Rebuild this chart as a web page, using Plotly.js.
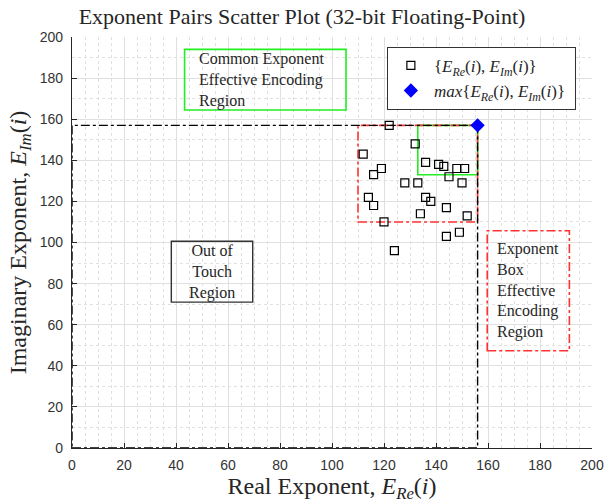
<!DOCTYPE html>
<html>
<head>
<meta charset="utf-8">
<script src="https://cdn.plot.ly/plotly-3.0.1.min.js"></script>
<style>html,body{margin:0;padding:0;background:#fff;}#chart{width:604px;height:503px;}</style>
</head>
<body>
<div id="chart"></div>
<script>
// Exponent pairs (real, imaginary)
const realExp = [122,132,112,136,141,143,148,151,119,116,145,128,133,150,114,116,136,138,144,134,152,120,144,149,124];
const imagExp = [157,148,143,139,138,137,136,136,136,133,132,129,129,129,122,118,122,120,117,114,113,110,103,105,96];
// maximum exponent pair
const maxReal = [156];
const maxImag = [157];
// region bounds
const exponentBoxX = [110,156];
const exponentBoxY = [110,157];
const commonExpX = [133,156];
const commonExpY = [133,157];
const xTicks = [0,20,40,60,80,100,120,140,160,180,200];
const yTicks = [0,20,40,60,80,100,120,140,160,180,200];

const serif = '"Liberation Serif", "Times New Roman", serif';
const sans = '"Liberation Sans", Arial, sans-serif';
const txt = '#262626';

const traces = [
  {x: realExp, y: imagExp, type: 'scatter', mode: 'markers',
   name: '{<i>E</i><sub><i>Re</i></sub>(<i>i</i>), <i>E</i><sub><i>Im</i></sub>(<i>i</i>)} ',
   marker: {symbol: 'square-open', size: 8, color: '#000', line: {width: 1.2}}},
  {x: maxReal, y: maxImag, type: 'scatter', mode: 'markers',
   name: '<i>max</i>{<i>E</i><sub><i>Re</i></sub>(<i>i</i>), <i>E</i><sub><i>Im</i></sub>(<i>i</i>)} ',
   marker: {symbol: 'diamond', size: 11, color: '#0000ff'}}
];

const mx = maxReal[0], my = maxImag[0];
const shapes = [
  {type: 'rect', xref: 'x', yref: 'y', x0: commonExpX[0], x1: commonExpX[1], y0: commonExpY[0], y1: commonExpY[1],
   line: {color: '#22ee22', width: 1.6}, layer: 'between'},
  {type: 'rect', xref: 'x', yref: 'y', x0: exponentBoxX[0], x1: exponentBoxX[1], y0: exponentBoxY[0], y1: exponentBoxY[1],
   line: {color: '#ff3333', width: 1.6, dash: 'dashdot'}, layer: 'between'},
  {type: 'rect', xref: 'x', yref: 'y', x0: 0, x1: mx, y0: 0, y1: my,
   line: {color: '#000', width: 1.4, dash: 'dashdot'}, layer: 'between'},
  {type: 'rect', xref: 'x', yref: 'y', x0: 43.3, x1: 105.4, y0: 164.5, y1: 194,
   line: {color: '#22ee22', width: 1.6}, fillcolor: 'rgba(255,255,255,0)', layer: 'between'},
  {type: 'rect', xref: 'x', yref: 'y', x0: 38.2, x1: 69.5, y0: 71, y1: 100.6,
   line: {color: '#333', width: 1.4}, fillcolor: 'rgba(255,255,255,0)', layer: 'between'},
  {type: 'rect', xref: 'x', yref: 'y', x0: 159.7, x1: 191.3, y0: 47.3, y1: 105.7,
   line: {color: '#ff3333', width: 1.6, dash: 'dashdot'}, fillcolor: 'rgba(255,255,255,0)', layer: 'between'}
];

const annFont = {family: serif, size: 16, color: txt};
const annotations = [
  {xref: 'x', yref: 'y', x: 48, y: 179, text: 'Common Exponent<br>Effective Encoding<br>Region',
   showarrow: false, align: 'left', xanchor: 'left', yanchor: 'middle', font: annFont},
  {xref: 'x', yref: 'y', x: 53.9, y: 85.5, text: 'Out of<br>Touch<br>Region',
   showarrow: false, align: 'center', xanchor: 'center', yanchor: 'middle', font: annFont},
  {xref: 'x', yref: 'y', x: 162.5, y: 76.5, text: 'Exponent<br>Box<br>Effective<br>Encoding<br>Region',
   showarrow: false, align: 'left', xanchor: 'left', yanchor: 'middle', font: annFont}
];

const axisCommon = {
  range: [0, 200], ticks: 'inside', ticklen: 5, tickcolor: txt, tickwidth: 1,
  showline: true, linecolor: txt, linewidth: 1.2, zeroline: false,
  showgrid: true, gridcolor: '#e0e0e0', gridwidth: 1,
  tickfont: {family: sans, size: 14, color: '#333'}
};

const layout = {
  width: 604, height: 503,
  margin: {l: 72, r: 12, t: 37, b: 55},
  paper_bgcolor: '#fff', plot_bgcolor: '#fff',
  title: {text: 'Exponent Pairs Scatter Plot (32-bit Floating-Point)', font: {family: serif, size: 22, color: txt},
          xref: 'container', x: 0.5, y: 0.968, yanchor: 'middle'},
  xaxis: Object.assign({}, axisCommon, {
    tickvals: xTicks, ticklabelstandoff: 4,
    minor: {dtick: 5, showgrid: true, gridcolor: '#e0e0e0', griddash: 'dot', ticks: ''},
    title: {text: 'Real Exponent, <i>E</i><sub><i>Re</i></sub>(<i>i</i>)', font: {family: serif, size: 24, color: txt}, standoff: 6}
  }),
  yaxis: Object.assign({}, axisCommon, {
    tickvals: yTicks, ticklabelstandoff: 5,
    minor: {dtick: 10, showgrid: true, gridcolor: '#e0e0e0', griddash: 'dot', ticks: ''},
    title: {text: 'Imaginary Exponent, <i>E</i><sub><i>Im</i></sub>(<i>i</i>)', font: {family: serif, size: 24, color: txt}, standoff: 6}
  }),
  showlegend: true,
  legend: {x: 0.969, xanchor: 'right', y: 0.976, yanchor: 'top', bgcolor: '#fff',
           bordercolor: '#333', borderwidth: 1, font: {family: serif, size: 17, color: txt},
           tracegroupgap: 0, itemwidth: 36},
  shapes: shapes,
  annotations: annotations
};

Plotly.newPlot('chart', traces, layout, {displayModeBar: false, staticPlot: true});
</script>
</body>
</html>
